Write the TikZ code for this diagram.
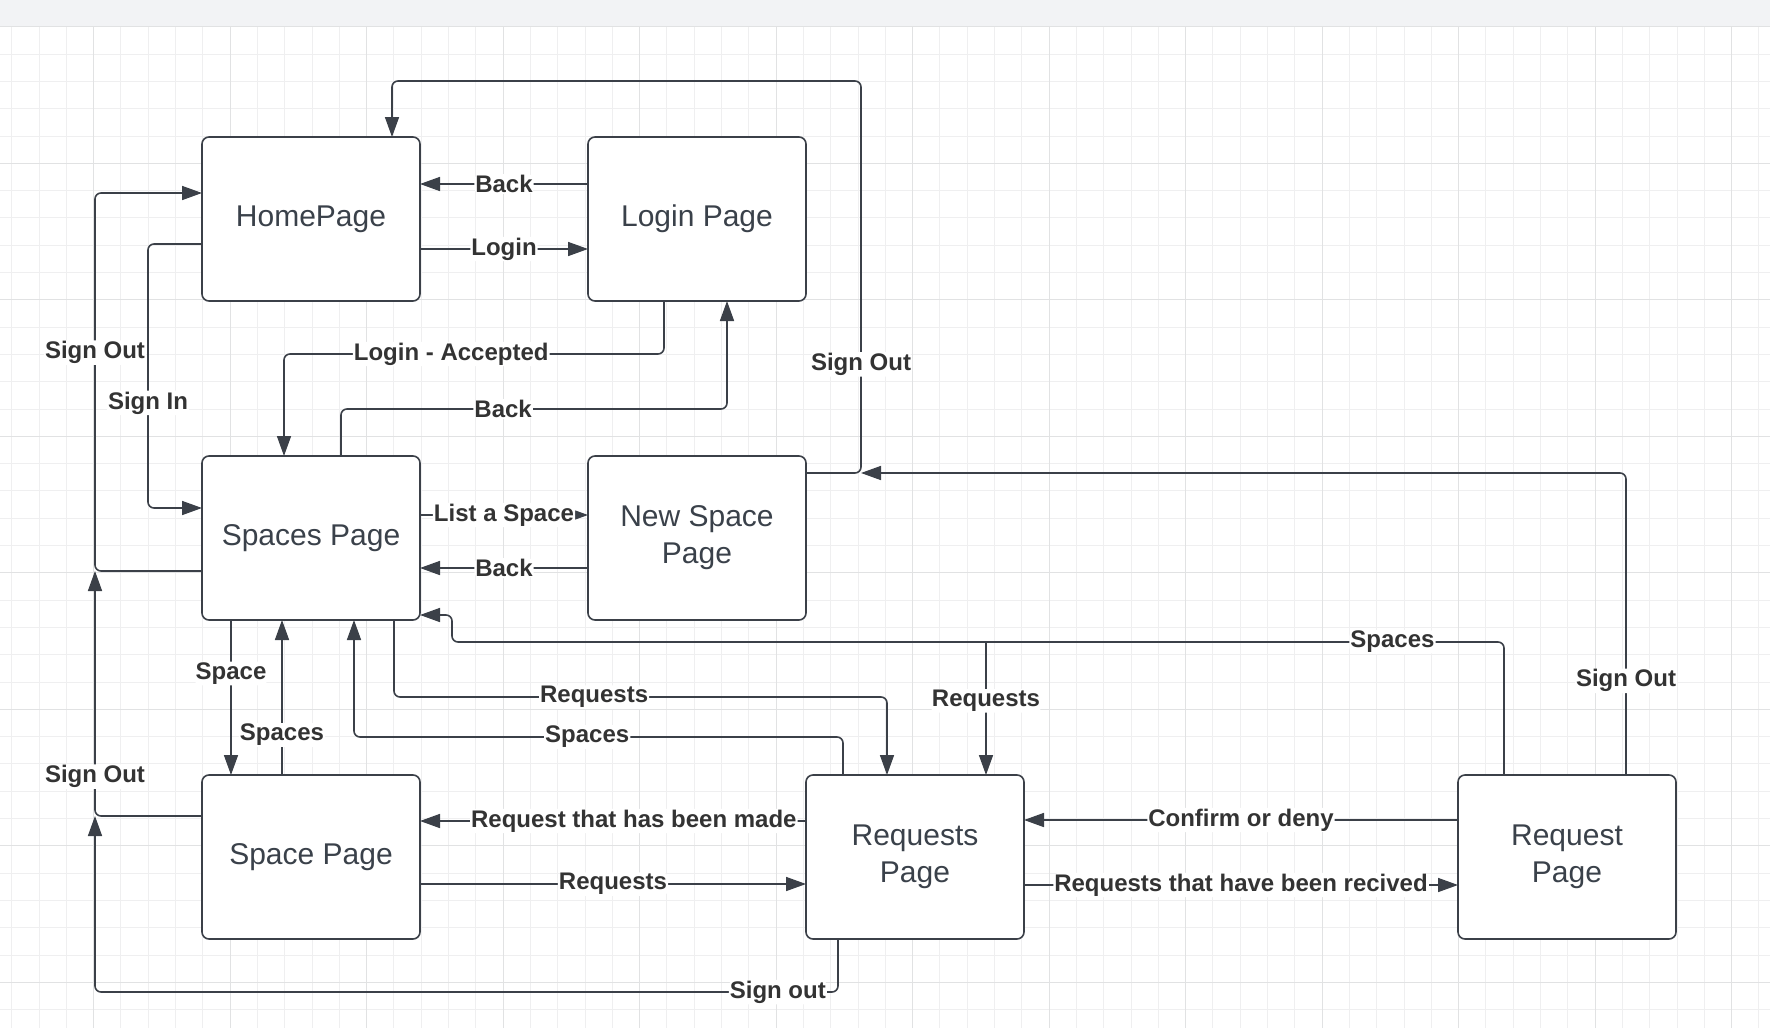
\documentclass[tikz,border=0pt]{standalone}
\usepackage{fontspec}
\setmainfont{Liberation Sans}
\usetikzlibrary{arrows.meta,positioning}
\definecolor{linec}{HTML}{3B4048}
\definecolor{textc}{HTML}{3A414A}
\definecolor{lblc}{HTML}{333333}
\definecolor{gridc}{HTML}{EFEFF0}
\definecolor{gridmaj}{HTML}{E1E2E3}
\definecolor{barc}{HTML}{F2F3F5}
\newcommand{\SignOut}{Sign Out}
\newcommand{\ReqsTxt}{Requests}
\newcommand{\SpacesTxt}{Spaces}

\begin{document}
\begin{tikzpicture}
    [x=1pt, y=-1pt,
    page/.style = {shape=rectangle, rounded corners=7pt, draw=linec, line width=1.6pt,
        fill=white, text=textc, align=center, minimum width=218pt, minimum height=164pt,
        inner sep=0pt, outer sep=0pt, font=\fontsize{30}{37}\selectfont},
    link/.style = {draw=linec, line width=1.6pt, rounded corners=6pt,
        -{Triangle[length=20pt,width=14pt]}},
    lbl/.style = {fill=white, text=lblc, inner sep=1pt,
        font=\fontsize{24}{28}\selectfont\bfseries}]

    \useasboundingbox (0,0) rectangle (1770,1028);
    \fill[white] (0,0) rectangle (1770,1028);
    \foreach \i in {-3,...,61}
        \draw[gridc, line width=1pt] ({93.6+27.3*\i},27) -- ({93.6+27.3*\i},1028);
    \foreach \i in {0,...,36}
        \draw[gridc, line width=1pt] (0,{26.8+27.3*\i}) -- (1770,{26.8+27.3*\i});
    \foreach \i in {0,...,12}
        \draw[gridmaj, line width=1.2pt] ({93.6+136.5*\i},27) -- ({93.6+136.5*\i},1028);
    \foreach \i in {0,...,7}
        \draw[gridmaj, line width=1.2pt] (0,{26.8+136.5*\i}) -- (1770,{26.8+136.5*\i});
    \fill[barc] (0,0) rectangle (1770,26);
    \draw[gridmaj, line width=1.4pt] (0,26.5) -- (1770,26.5);

    \node[page] (home) at (311,219) {HomePage};
    \node[page, right=168pt of home] (login) {Login Page};
    \node[page, below=155pt of home] (spaces) {Spaces Page};
    \node[page, right=168pt of spaces] (newsp) {New Space\\Page};
    \node[page, below=155pt of spaces] (space) {Space Page};
    \node[page, right=386pt of space] (reqs) {Requests\\Page};
    \node[page, right=434pt of reqs] (req) {Request\\Page};

    \coordinate (so1) at (95,571);
    \coordinate (so2) at (95,816);
    \coordinate (so3) at (861,473);
    \coordinate (br) at (986,642);

    \draw[link] (login.west |- 0,184) -- node[lbl] {Back} (home.east |- 0,184);
    \draw[link] (home.east |- 0,249) -- node[lbl] {Login} (login.west |- 0,249);
    \draw[link] (spaces.west |- so1) -- (so1) -- node[lbl, pos=0.578] {\SignOut} (95,193)
        -- (home.west |- 0,193);
    \draw[link] (home.west |- 0,244) -- (148,244) -- node[lbl, pos=0.602] {Sign In} (148,508)
        -- (spaces.west |- 0,508);
    \draw[link] (login.south -| 664,0) -- (664,354) -- node[lbl, pos=0.56] {Login - Accepted} (284,354)
        -- (spaces.north -| 284,0);
    \draw[link] (spaces.north -| 341,0) -- (341,409) -- node[lbl, pos=0.42] {Back} (727,409)
        -- (login.south -| 727,0);
    \draw[link] (newsp.east |- so3) -- (so3) -- node[lbl, pos=0.277] {\SignOut} (861,81)
        -- (392,81) -- (home.north -| 392,0);
    \draw[link] (req.north -| 1626,0) -- node[lbl, pos=0.312] {\SignOut} (1626,473) -- (so3);
    \draw[link] (spaces.east |- 0,515) -- node[lbl] {List a Space} (newsp.west |- 0,515);
    \draw[link] (newsp.west |- 0,568) -- node[lbl] {Back} (spaces.east |- 0,568);
    \draw[link] (req.north -| 1504,0) -- (1504,642) -- node[lbl, pos=0.106] {\SpacesTxt} (452,642)
        -- (452,615) -- (spaces.east |- 0,615);
    \draw[link] (br) -- node[lbl, pos=0.443] {\ReqsTxt} (reqs.north -| br);
    \draw[link] (spaces.south -| 394,0) -- (394,697) -- node[lbl, pos=0.406] {\ReqsTxt} (887,697)
        -- (reqs.north -| 887,0);
    \draw[link] (reqs.north -| 843,0) -- (843,737) -- node[lbl, pos=0.523] {\SpacesTxt} (354,737)
        -- (spaces.south -| 354,0);
    \draw[link] (spaces.south -| 231,0) -- node[lbl, pos=0.345] {Space} (space.north -| 231,0);
    \draw[link] (space.north -| 282,0) -- node[lbl, pos=0.258] {\SpacesTxt} (spaces.south -| 282,0);
    \draw[link] (space.west |- so2) -- (so2) -- node[lbl, pos=0.161] {\SignOut} (so1);
    \draw[link] (reqs.south -| 838,0) -- (838,992) -- node[lbl, pos=0.081] {Sign out} (95,992)
        -- (so2);
    \draw[link] (reqs.west |- 0,821) -- node[lbl, pos=0.446] {Request that has been made} (space.east |- 0,821);
    \draw[link] (space.east |- 0,884) -- node[lbl] {\ReqsTxt} (reqs.west |- 0,884);
    \draw[link] (req.west |- 0,820) -- node[lbl] {Confirm or deny} (reqs.east |- 0,820);
    \draw[link] (reqs.east |- 0,885) -- node[lbl] {Requests that have been recived} (req.west |- 0,885);
\end{tikzpicture}
\end{document}
